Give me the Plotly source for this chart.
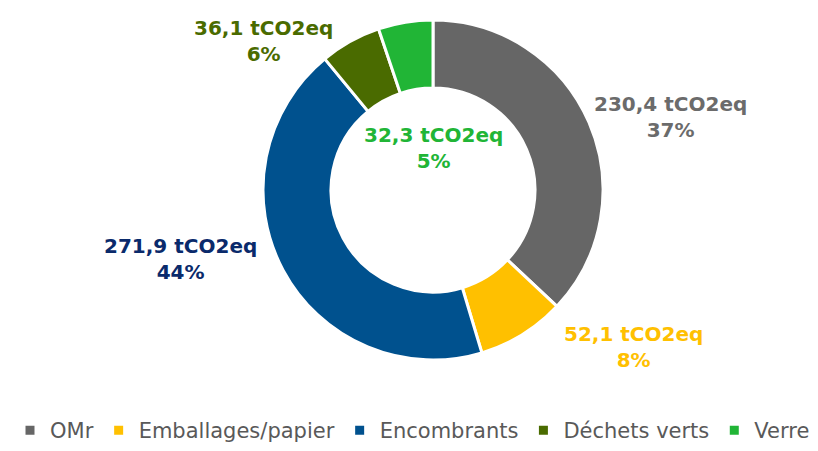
import plotly.graph_objects as go

categories = ["OMr", "Emballages/papier", "Encombrants", "Déchets verts", "Verre"]
values = [230.4, 52.1, 271.9, 36.1, 32.3]
unit = "tCO2eq"

slice_colors = ["#666666", "#FFC000", "#00518E", "#4A6B00", "#21B536"]
label_colors = ["#6B6B6B", "#FFC000", "#0A2A6B", "#4A6B00", "#21B536"]
# label anchor positions (pixels in the 818x451 window)
label_pos = [(670, 117), (633, 347), (180, 259), (263, 41), (433, 148)]

OFF = 8  # page body margin offset
W, H = 818, 451 - 8
cx, cy, R = 433 - OFF, 190 - OFF, 170
top, bottom = cy - R, H - (cy + R)
plot_h = H - top - bottom
total = sum(values)

def px2paper(px):
    return (px - OFF) / W

def py2paper(py):
    return 1 - (py - OFF - top) / plot_h

fig = go.Figure(go.Pie(
    labels=categories,
    values=values,
    hole=0.6,
    sort=False,
    direction="clockwise",
    rotation=0,
    marker=dict(colors=slice_colors, line=dict(color="white", width=3)),
    textinfo="none",
    hoverinfo="label+value+percent",
    domain=dict(x=[(cx - R) / W, (cx + R) / W], y=[0, 1]),
))

annotations = []
for cat, v, col, (px, py) in zip(categories, values, label_colors, label_pos):
    txt = f"{v:.1f}".replace(".", ",") + f" {unit}<br>{round(100 * v / total)}%"
    annotations.append(dict(
        x=px2paper(px), y=py2paper(py), xref="paper", yref="paper",
        text=txt, showarrow=False, align="center",
        font=dict(family="DejaVu Sans", size=20, color=col, weight="bold"),
        xanchor="center", yanchor="middle",
    ))

fig.update_layout(
    width=W, height=H,
    margin=dict(l=0, r=0, t=top, b=bottom, autoexpand=False),
    paper_bgcolor="white",
    plot_bgcolor="white",
    annotations=annotations,
    showlegend=True,
    legend=dict(
        orientation="h", x=px2paper(10), xanchor="left", y=py2paper(451), yanchor="bottom",
        font=dict(family="DejaVu Sans", size=21, color="#595959"),
        itemwidth=30, tracegroupgap=0,
    ),
)

fig.write_html("out.html")
